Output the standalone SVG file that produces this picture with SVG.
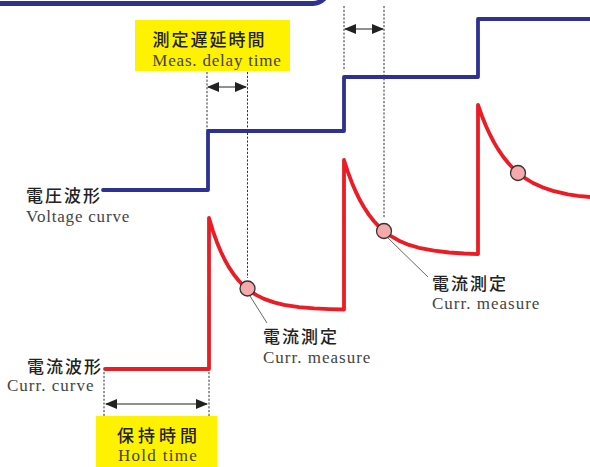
<svg xmlns="http://www.w3.org/2000/svg" width="590" height="467" viewBox="0 0 590 467">
<style>
.jp{font-family:"Noto Sans CJK JP","Noto Sans CJK SC",sans-serif;font-size:17px;font-weight:500;fill:#222;letter-spacing:2px}
.en{font-family:"Liberation Serif",serif;font-size:17px;fill:#444;letter-spacing:1px}
.dash{stroke:#333;stroke-width:1;stroke-dasharray:2.2 1.6;fill:none}
.dim{stroke:#222;stroke-width:1.2;fill:none;marker-start:url(#ah);marker-end:url(#ah)}
.volt{stroke:#2e3192;stroke-width:3.8;fill:none;stroke-linejoin:round;stroke-linecap:round}
.curr{stroke:#ec1c24;stroke-width:3.8;fill:none;stroke-linejoin:round;stroke-linecap:round}
.pt{fill:#f4a9ab;stroke:#333;stroke-width:1.3}
.lead{stroke:#555;stroke-width:0.9;fill:none}
.box{fill:#fff200}
</style>
<defs>
<marker id="ah" viewBox="0 0 12 10" refX="11" refY="5" markerWidth="12" markerHeight="10" markerUnits="userSpaceOnUse" orient="auto-start-reverse">
<path d="M0,0 L12,5 L0,10 Z" fill="#222"/>
</marker>
</defs>

<g id="frame">
<path d="M-5,3.5 H313 A15,15 0 0 0 328,-11.5" stroke="#2e3192" stroke-width="5" fill="none"/>
</g>

<g id="connectors">
<line class="dash" x1="207" y1="72" x2="207" y2="130"/>
<line class="dash" x1="247.5" y1="72" x2="247.5" y2="278"/>
<line class="dash" x1="344" y1="6" x2="344" y2="70"/>
<line class="dash" x1="384" y1="6" x2="384" y2="218"/>
<line class="dash" x1="104" y1="372" x2="104" y2="421"/>
<line class="dash" x1="209" y1="372" x2="209" y2="416"/>
<line class="dim" x1="208" y1="87" x2="246" y2="87"/>
<line class="dim" x1="345" y1="29" x2="383" y2="29"/>
<line class="dim" x1="106" y1="404" x2="207" y2="404"/>
<line class="lead" x1="250" y1="296" x2="267" y2="323"/>
<line class="lead" x1="388" y1="238" x2="428" y2="277"/>
</g>

<g id="voltage-curve">
<path class="volt" d="M103,190 H208 V131 H344 V77 H478 V19 H592"/>
</g>

<g id="current-curve">
<path class="curr" d="M105,369 H209 V218 L213,231.1 L217,242.4 L221,252 L225,260.3 L229,267.4 L234,274.8 L239,281 L244,286.1 L249,290.2 L256,294.9 L264,298.9 L274,302.4 L284,304.9 L299,307.1 L314,308.4 L329,309.1 L344,309.5 V160 L348,172.3 L352,182.9 L356,192.2 L360,200.3 L364,207.3 L369,214.9 L374,221.2 L379,226.6 L384,231.1 L391,236.2 L399,240.7 L409,244.9 L419,247.8 L434,250.7 L449,252.5 L464,253.5 L478,254.1 V105 L482,116.2 L486,126 L490,134.7 L494,142.4 L498,149.1 L503,156.5 L508,162.8 L513,168.2 L518,172.8 L525,178.1 L533,183 L543,187.5 L553,190.9 L568,194.3 L578,195.8 L594,197.4"/>
</g>

<g id="measure-point-1"><circle class="pt" cx="247.5" cy="288.5" r="7.5"/></g>
<g id="measure-point-2"><circle class="pt" cx="384" cy="231" r="7.5"/></g>
<g id="measure-point-3"><circle class="pt" cx="518" cy="173" r="7.5"/></g>

<g id="label-delay">
<rect class="box" x="135" y="20" width="155" height="51"/>
<text class="jp" x="209.5" y="46" text-anchor="middle">測定遅延時間</text>
<text class="en" x="217" y="66" text-anchor="middle" style="letter-spacing:0.8px">Meas. delay time</text>
</g>

<g id="label-hold">
<rect class="box" x="96" y="416" width="121" height="51"/>
<text class="jp" x="159" y="442" text-anchor="middle" style="letter-spacing:4px">保持時間</text>
<text class="en" x="158" y="461" text-anchor="middle" style="letter-spacing:1.3px">Hold time</text>
</g>

<g id="label-voltage">
<text class="jp" x="26" y="202">電圧波形</text>
<text class="en" x="26" y="222" style="letter-spacing:0.8px">Voltage curve</text>
</g>

<g id="label-current">
<text class="jp" x="27" y="373">電流波形</text>
<text class="en" x="7" y="391">Curr. curve</text>
</g>

<g id="label-measure-1">
<text class="jp" x="263" y="343">電流測定</text>
<text class="en" x="263" y="363">Curr. measure</text>
</g>

<g id="label-measure-2">
<text class="jp" x="432" y="290">電流測定</text>
<text class="en" x="432" y="309">Curr. measure</text>
</g>
</svg>
